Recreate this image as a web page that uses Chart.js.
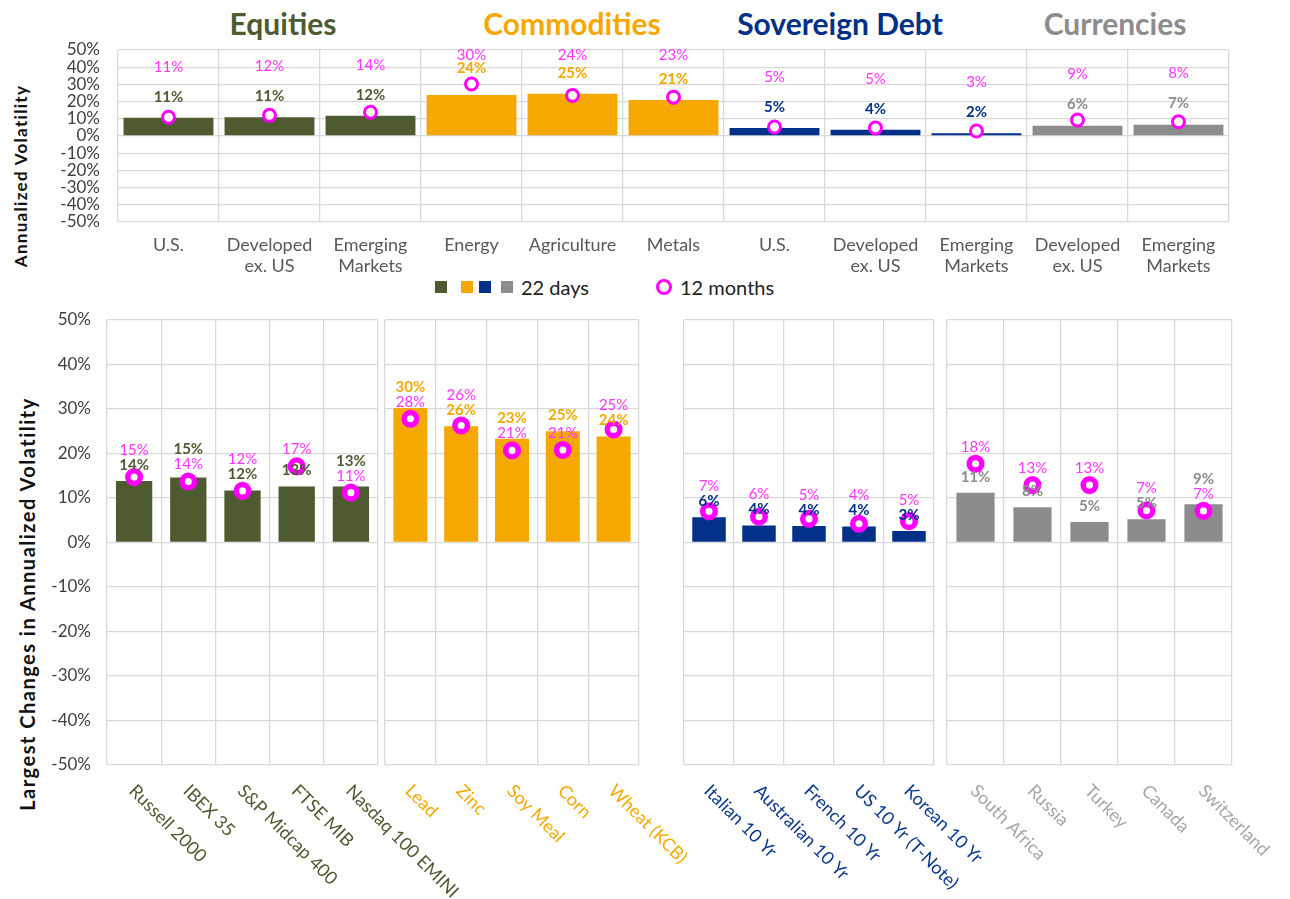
<!DOCTYPE html>
<html>
<head>
<meta charset="utf-8">
<script src="https://cdn.jsdelivr.net/npm/chart.js@4.4.1/dist/chart.umd.min.js"></script>
<style>
  body { margin: 0; background: #fff; font-family: Lato, sans-serif; }
  #page { position: relative; width: 1290px; height: 899px; overflow: hidden; }
  canvas { position: absolute; left: 0; }
  .head { position: absolute; top: 23px; transform: translate(-50%, -50%); font-size: 30px; font-weight: 700; white-space: nowrap; }
  .ytitle { position: absolute; transform: translate(-50%, -50%) rotate(-90deg); font-weight: 700; white-space: nowrap; color: #111; }
  .sq { position: absolute; top: 281px; width: 12px; height: 12px; }
  .legtext { position: absolute; top: 287px; transform: translateY(-50%); font-size: 20px; color: #222; white-space: nowrap; }
  .ring { position: absolute; left: 656px; top: 279px; width: 10px; height: 10px; border: 3px solid #ff00ff; border-radius: 50%; }
</style>
</head>
<body>
<div id="page">
  <div class="head" style="left:283px;color:#4e5b31">Equities</div>
  <div class="head" style="left:572px;color:#f5a800">Commodities</div>
  <div class="head" style="left:840px;color:#003087">Sovereign Debt</div>
  <div class="head" style="left:1115px;color:#8c8c8c">Currencies</div>

  <div class="ytitle" style="left:20px;top:176px;font-size:17px;letter-spacing:1.3px">Annualized Volatility</div>
  <div class="ytitle" style="left:27px;top:604px;font-size:20px;letter-spacing:1.5px">Largest Changes in Annualized Volatility</div>

  <div class="sq" style="left:435px;background:#4e5b31"></div>
  <div class="sq" style="left:461px;background:#f5a800"></div>
  <div class="sq" style="left:479px;background:#003087"></div>
  <div class="sq" style="left:501px;background:#8c8c8c"></div>
  <div class="legtext" style="left:521px">22 days</div>
  <div class="ring"></div>
  <div class="legtext" style="left:680px">12 months</div>

  <canvas id="topChart" width="1290" height="300" style="top:0"></canvas>
  <canvas id="eqChart" width="1290" height="599" style="top:300px"></canvas>
  <canvas id="comChart" width="1290" height="599" style="top:300px"></canvas>
  <canvas id="sovChart" width="1290" height="599" style="top:300px"></canvas>
  <canvas id="curChart" width="1290" height="599" style="top:300px"></canvas>
</div>

<script>
const groupColors = { eq: '#4e5b31', com: '#f5a800', sov: '#003087', cur: '#8c8c8c' };
const nameColors = { eq: '#4e5b31', com: '#f5a800', sov: '#0b3a8f', cur: '#a6a6a6' };
const magenta = '#ff00ff';
const gridColor = '#d9d9d9';

// top panel: asset class averages
const topCategories = [
    ['U.S.'], ['Developed', 'ex. US'], ['Emerging', 'Markets'],
    ['Energy'], ['Agriculture'], ['Metals'],
    ['U.S.'], ['Developed', 'ex. US'], ['Emerging', 'Markets'],
    ['Developed', 'ex. US'], ['Emerging', 'Markets']
];
const topGroups = ['eq', 'eq', 'eq', 'com', 'com', 'com', 'sov', 'sov', 'sov', 'cur', 'cur'];
const top22Days = [10.6, 10.9, 11.8, 23.8, 24.6, 20.9, 4.6, 3.6, 1.6, 6.0, 6.6];
const top12Months = [10.9, 12.0, 13.8, 30.2, 23.6, 22.6, 5.2, 4.7, 2.9, 9.3, 8.3];

// bottom panels: largest changes
const equityNames = ['Russell 2000', 'IBEX 35', 'S&P Midcap 400', 'FTSE MIB', 'Nasdaq 100 EMINI'];
const equity22Days = [13.8, 14.6, 11.7, 12.6, 12.6];
const equity12Months = [14.7, 13.7, 11.6, 17.1, 11.2];

const commodityNames = ['Lead', 'Zinc', 'Soy Meal', 'Corn', 'Wheat (KCB)'];
const commodity22Days = [30.2, 26.1, 23.3, 25.0, 23.8];
const commodity12Months = [27.8, 26.3, 20.7, 20.8, 25.4];

const sovereignNames = ['Italian 10 Yr', 'Australian 10 Yr', 'French 10 Yr', 'US 10 Yr (T-Note)', 'Korean 10 Yr'];
const sovereign22Days = [5.7, 3.8, 3.7, 3.6, 2.6];
const sovereign12Months = [7.0, 5.8, 5.3, 4.2, 4.8];

const currencyNames = ['South Africa', 'Russia', 'Turkey', 'Canada', 'Switzerland'];
const currency22Days = [11.2, 7.9, 4.6, 5.2, 8.6];
const currency12Months = [17.7, 12.9, 12.9, 7.2, 7.1];

const yMin = -50, yMax = 50, yStep = 10;

Chart.defaults.font.family = 'Lato, sans-serif';

const pct = v => Math.round(v) + '%';

// 22 day label (bold, group colour) and 12 month label (magenta)
function valueLabels(d22, d12, colorOf, mode) {
    return {
        id: 'valueLabels',
        afterDatasetsDraw(chart) {
            const ctx = chart.ctx;
            const xs = chart.scales.x, ys = chart.scales.y;
            ctx.save();
            ctx.textAlign = 'center';
            ctx.textBaseline = 'middle';
            d22.forEach((v, i) => {
                const x = xs.getPixelForValue(i);
                const barTop = ys.getPixelForValue(v);
                const circY = ys.getPixelForValue(d12[i]);
                let b, m;
                if (mode === 'top') {
                    b = Math.min(barTop - 21, circY - 16);
                    m = Math.max(b - 30, 55);
                } else {
                    b = barTop - 16;
                    m = circY - 17;
                    if (Math.abs(b - m) < 15) {
                        if (m <= b) m = b - 15; else b = m - 15;
                    }
                }
                ctx.font = 'bold 15px Lato, sans-serif';
                ctx.fillStyle = colorOf(i);
                ctx.fillText(pct(v), x, b);
                ctx.font = '15px Lato, sans-serif';
                ctx.fillStyle = '#ff33ff';
                ctx.fillText(pct(d12[i]), x, m);
            });
            ctx.restore();
        }
    };
}

// y tick labels drawn from the scale's own ticks
function yTickLabels(rightX) {
    return {
        id: 'yTickLabels',
        afterDraw(chart) {
            const ctx = chart.ctx;
            const ys = chart.scales.y;
            ctx.save();
            ctx.font = '17px Lato, sans-serif';
            ctx.fillStyle = '#404040';
            ctx.textAlign = 'right';
            ctx.textBaseline = 'middle';
            ys.ticks.forEach(t => {
                ctx.fillText(t.value + '%', rightX, ys.getPixelForValue(t.value));
            });
            ctx.restore();
        }
    };
}

function slantedNames(names, color) {
    return {
        id: 'slantedNames',
        afterDraw(chart) {
            const ctx = chart.ctx;
            const xs = chart.scales.x;
            ctx.save();
            ctx.font = '18px Lato, sans-serif';
            ctx.fillStyle = color;
            ctx.textAlign = 'left';
            ctx.textBaseline = 'middle';
            names.forEach((n, i) => {
                ctx.save();
                ctx.translate(xs.getPixelForValue(i) - 2, 488);
                ctx.rotate(Math.PI / 4);
                ctx.fillText(n, 0, 0);
                ctx.restore();
            });
            ctx.restore();
        }
    };
}

const yScaleOpts = {
    min: yMin, max: yMax,
    grid: { color: gridColor, lineWidth: 1.3, drawTicks: false },
    border: { display: false },
    ticks: { display: false, stepSize: yStep, autoSkip: false },
    afterFit: s => { s.width = 0; }
};

// top chart
new Chart(document.getElementById('topChart'), {
    type: 'bar',
    data: {
        labels: topCategories,
        datasets: [{
            type: 'line',
            data: top12Months,
            showLine: false,
            pointRadius: 6,
            pointBorderWidth: 3,
            pointBackgroundColor: '#fff',
            pointBorderColor: magenta,
            order: 1
        }, {
            type: 'bar',
            data: top22Days,
            backgroundColor: topGroups.map(g => groupColors[g]),
            categoryPercentage: 0.89,
            barPercentage: 1,
            order: 2
        }]
    },
    options: {
        responsive: false,
        animation: false,
        layout: { padding: { top: 50, left: 118, right: 61, bottom: 0 } },
        plugins: { legend: { display: false }, tooltip: { enabled: false } },
        scales: {
            x: {
                offset: true,
                grid: { offset: true, color: gridColor, lineWidth: 1.3, drawTicks: false },
                border: { display: false },
                ticks: { color: '#595959', font: { size: 18 }, padding: 12, maxRotation: 0, autoSkip: false },
                afterFit: s => { s.height = 78; }
            },
            y: yScaleOpts
        }
    },
    plugins: [valueLabels(top22Days, top12Months, i => groupColors[topGroups[i]], 'top'), yTickLabels(100)]
});

// bottom panels
function makePanel(id, names, d22, d12, group, left, right, showY) {
    const extra = showY ? [yTickLabels(91)] : [];
    new Chart(document.getElementById(id), {
        type: 'bar',
        data: {
            labels: names,
            datasets: [{
                type: 'line',
                data: d12,
                showLine: false,
                pointRadius: 6.3,
                pointBorderWidth: 5.5,
                pointBackgroundColor: '#fff',
                pointBorderColor: magenta,
                order: 1
            }, {
                type: 'bar',
                data: d22,
                backgroundColor: groupColors[group],
                categoryPercentage: 0.67,
                barPercentage: 1,
                order: 2
            }]
        },
        options: {
            responsive: false,
            animation: false,
            layout: { padding: { top: 20, left: left, right: 1290 - right, bottom: 134 } },
            plugins: { legend: { display: false }, tooltip: { enabled: false } },
            scales: {
                x: {
                    offset: true,
                    grid: { offset: true, color: gridColor, lineWidth: 1.3, drawTicks: false },
                    border: { display: false },
                    ticks: { display: false },
                    afterFit: s => { s.height = 0; }
                },
                y: yScaleOpts
            }
        },
        plugins: [valueLabels(d22, d12, () => groupColors[group], 'bottom'), slantedNames(names, nameColors[group])].concat(extra)
    });
}

makePanel('eqChart', equityNames, equity22Days, equity12Months, 'eq', 107, 378, true);
makePanel('comChart', commodityNames, commodity22Days, commodity12Months, 'com', 385, 639, false);
makePanel('sovChart', sovereignNames, sovereign22Days, sovereign12Months, 'sov', 684, 934, false);
makePanel('curChart', currencyNames, currency22Days, currency12Months, 'cur', 947, 1232, false);
</script>
</body>
</html>
